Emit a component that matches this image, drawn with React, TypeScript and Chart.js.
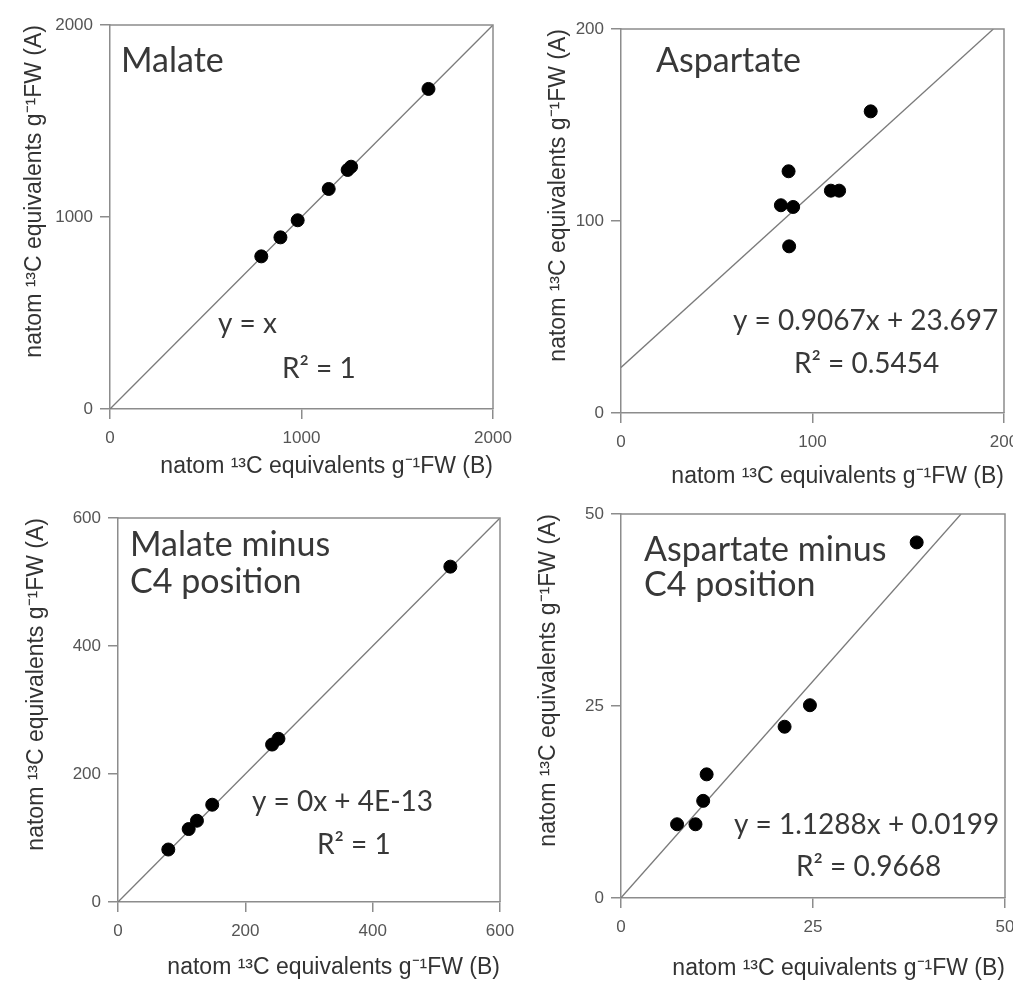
import React, { useEffect, useRef } from 'react';
import { Chart, registerables } from 'chart.js';

Chart.register(...registerables);

// ---------- data ----------
// Panel 1: Malate
const malateB = [790, 890, 980, 1142, 1241, 1259, 1663];
const malateA = [795, 894, 983, 1146, 1245, 1262, 1667];
const malateTicks = [0, 1000, 2000];
const malateFit = [1, 0]; // slope, intercept

// Panel 2: Aspartate
const aspB = [87.5, 83.5, 89.9, 87.8, 109.6, 113.9, 130.4];
const aspA = [125.9, 108.2, 107.3, 86.8, 115.8, 115.8, 157.1];
const aspTicks = [0, 100, 200];
const aspFit = [0.9067, 23.697];

// Panel 3: Malate minus C4 position
const malC4B = [79, 111, 124, 148, 242, 252, 522];
const malC4A = [82, 114, 127, 152, 246, 255, 524];
const malC4Ticks = [0, 200, 400, 600];
const malC4Fit = [1, 0];

// Panel 4: Aspartate minus C4 position
const aspC4B = [7.3, 9.7, 10.7, 11.15, 21.3, 24.6, 38.5];
const aspC4A = [9.6, 9.6, 12.65, 16.1, 22.3, 25.1, 46.3];
const aspC4Ticks = [0, 25, 50];
const aspC4Fit = [1.1288, 0.0199];

const panelTitles = [['Malate'], ['Aspartate'], ['Malate minus', 'C4 position'], ['Aspartate minus', 'C4 position']];
const equations = [
  ['y = x', 'R² = 1'],
  ['y = 0.9067x + 23.697', 'R² = 0.5454'],
  ['y = 0x + 4E-13', 'R² = 1'],
  ['y = 1.1288x + 0.0199', 'R² = 0.9668'],
];
const xTitle = 'natom ¹³C equivalents g⁻¹FW (B)';
const yTitle = 'natom ¹³C equivalents g⁻¹FW (A)';

// ---------- layout (page pixels) ----------
const W = 1013;
const H = 982;
const TITLE_SIZE = 23;
const HALF_LH = (TITLE_SIZE * 1.2) / 2;

const layouts = [
  { area: { l: 110, r: 493, t: 25, b: 409 }, yTitleCx: 35, xTitleCy: 467,
    titlePos: [[11, 47]], titleGap: 38, eqPos: [[108, 308], [172, 353]] },
  { area: { l: 621, r: 1004, t: 29, b: 413 }, yTitleCx: 559, xTitleCy: 477,
    titlePos: [[35, 43]], titleGap: 38, eqPos: [[112, 301], [173, 344]] },
  { area: { l: 118, r: 500, t: 518, b: 902 }, yTitleCx: 37, xTitleCy: 968,
    titlePos: [[12, 38]], titleGap: 37, eqPos: [[134, 293], [199, 336]] },
  { area: { l: 621, r: 1005, t: 514, b: 898 }, yTitleCx: 549, xTitleCy: 969,
    titlePos: [[23, 47]], titleGap: 35, eqPos: [[113, 320], [175, 362]] },
];

const panels = [
  { xs: malateB, ys: malateA, ticks: malateTicks, fit: malateFit },
  { xs: aspB, ys: aspA, ticks: aspTicks, fit: aspFit },
  { xs: malC4B, ys: malC4A, ticks: malC4Ticks, fit: malC4Fit },
  { xs: aspC4B, ys: aspC4A, ticks: aspC4Ticks, fit: aspC4Fit },
];

const AXIS_COLOR = '#8c8c8c';
const TICK_COLOR = '#555555';
const TITLE_COLOR = '#333333';
const TEXT_COLOR = '#383838';
const TEXT_FONT = 'Lato, "Open Sans", sans-serif';
const AXIS_FONT = '"Liberation Sans", Arial, sans-serif';

function fitLine(fit: number[], max: number) {
  const [m, b] = fit;
  let xEnd = max;
  if (m * xEnd + b > max) xEnd = (max - b) / m;
  return [
    { x: 0, y: b },
    { x: xEnd, y: m * xEnd + b },
  ];
}

function PanelChart({ idx }: { idx: number }) {
  const ref = useRef<HTMLCanvasElement | null>(null);
  useEffect(() => {
    const p = panels[idx];
    const lay = layouts[idx];
    const { area } = lay;
    const max = p.ticks[p.ticks.length - 1];
    const padLeft = lay.yTitleCx - HALF_LH;
    const yW = area.l - padLeft;
    const xBottom = lay.xTitleCy + HALF_LH;
    const xH = xBottom - area.b;

    const annot = {
      id: 'annot' + idx,
      afterDatasetsDraw(chart: any) {
        const { ctx, chartArea: ca } = chart;
        ctx.save();
        ctx.strokeStyle = AXIS_COLOR;
        ctx.lineWidth = 1.5;
        ctx.beginPath();
        ctx.moveTo(ca.left, ca.top);
        ctx.lineTo(ca.right, ca.top);
        ctx.lineTo(ca.right, ca.bottom);
        ctx.stroke();
        ctx.restore();
      },
      afterDraw(chart: any) {
        const { ctx, chartArea: ca } = chart;
        ctx.save();
        ctx.fillStyle = TEXT_COLOR;
        ctx.textAlign = 'left';
        ctx.textBaseline = 'alphabetic';
        ctx.font = `34px ${TEXT_FONT}`;
        const [tx, ty] = lay.titlePos[0];
        panelTitles[idx].forEach((line, i) => {
          ctx.fillText(line, ca.left + tx, ca.top + ty + i * lay.titleGap);
        });
        ctx.font = `28px ${TEXT_FONT}`;
        equations[idx].forEach((line, i) => {
          const [ex, ey] = lay.eqPos[i];
          ctx.fillText(line, ca.left + ex, ca.top + ey);
        });
        ctx.restore();
      },
    };

    const tickList = p.ticks.map((v) => ({ value: v }));
    const common = (text: string, pad: number) => ({
      type: 'linear' as const,
      min: 0,
      max,
      afterBuildTicks: (s: any) => {
        s.ticks = tickList.map((t) => ({ ...t }));
      },
      grid: { drawOnChartArea: false, drawTicks: true, tickLength: 10, color: AXIS_COLOR, lineWidth: 1.5 },
      border: { display: true, color: AXIS_COLOR, width: 1.5 },
      ticks: {
        color: TICK_COLOR,
        font: { family: AXIS_FONT, size: 17 },
        maxRotation: 0,
        autoSkip: false,
        padding: pad,
        callback: (v: any) => String(v),
      },
      title: { display: true, text, align: 'end' as const, color: TITLE_COLOR, font: { family: AXIS_FONT, size: TITLE_SIZE }, padding: 0 },
    });

    const chart = new Chart(ref.current as HTMLCanvasElement, {
      type: 'scatter',
      data: {
        datasets: [
          {
            data: p.xs.map((x, i) => ({ x, y: p.ys[i] })),
            backgroundColor: '#000',
            borderColor: '#000',
            pointRadius: 6.5,
            pointHoverRadius: 6.5,
          },
          {
            data: fitLine(p.fit, max),
            showLine: true,
            borderColor: '#7a7a7a',
            borderWidth: 1.3,
            pointRadius: 0,
            fill: false,
          } as any,
        ],
      },
      plugins: [annot],
      options: {
        animation: false,
        responsive: false,
        devicePixelRatio: 1,
        events: [],
        layout: {
          padding: { left: padLeft, right: W - area.r, top: area.t, bottom: H - xBottom },
        },
        plugins: { legend: { display: false }, tooltip: { enabled: false } },
        scales: {
          x: {
            ...common(xTitle, 9),
            afterFit: (s: any) => {
              s.height = xH;
              s.paddingLeft = 0;
              s.paddingRight = 0;
            },
          },
          y: {
            ...common(yTitle, 7),
            afterFit: (s: any) => {
              s.width = yW;
              s.paddingTop = 0;
              s.paddingBottom = 0;
            },
          },
        },
      } as any,
    });
    return () => chart.destroy();
  }, [idx]);
  return (
    <canvas
      ref={ref}
      width={W}
      height={H}
      style={{ position: 'absolute', left: 0, top: 0, width: W, height: H }}
    />
  );
}

export default function App() {
  return (
    <div style={{ position: 'absolute', left: 0, top: 0, width: W, height: H, background: '#fff', overflow: 'hidden' }}>
      {panels.map((_, i) => (
        <PanelChart key={i} idx={i} />
      ))}
    </div>
  );
}
